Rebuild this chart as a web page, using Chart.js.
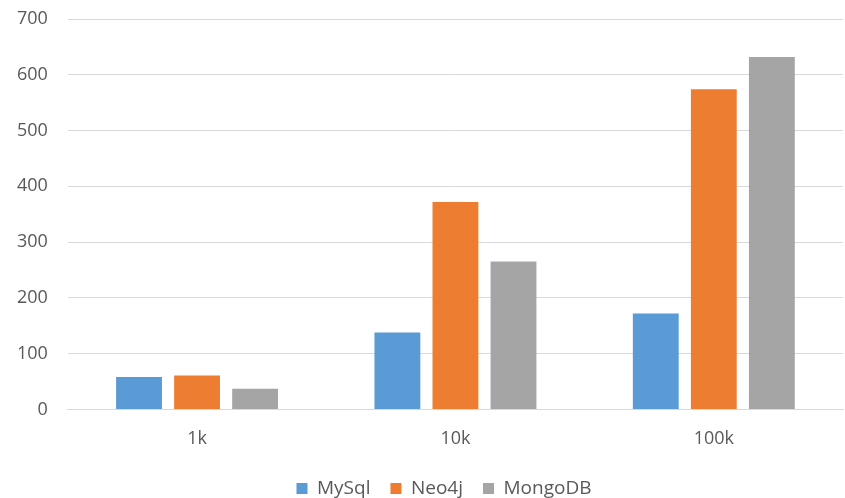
<!DOCTYPE html>
<html>
<head>
<meta charset="utf-8">
<script src="https://cdn.jsdelivr.net/npm/chart.js@4"></script>
<style>
  html, body { margin: 0; padding: 0; background: #fff; }
  #wrap { width: 845px; height: 498px; }
</style>
</head>
<body>
<div id="wrap"><canvas id="myChart"></canvas></div>
<script>
let categories = ['1k', '10k', '100k'];
let mysqlValues = [58, 138, 172];
let neo4jValues = [61, 372, 574];
let mongoValues = [37, 265, 632];

var ctx = document.getElementById('myChart').getContext('2d');

Chart.defaults.font.family = '"Open Sans", sans-serif';
Chart.defaults.font.size = 18;
Chart.defaults.color = '#595959';

// legend sits a little right of the canvas centre in the original
const legendShift = {
    id: 'legendShift',
    afterLayout(chart) {
        chart.legend.left += 24;
        chart.legend.right += 24;
    }
};

new Chart(ctx, {
    type: 'bar',
    data: {
        labels: categories,
        datasets: [{
            label: 'MySql',
            data: mysqlValues,
            backgroundColor: '#5B9BD5'
        },
        {
            label: 'Neo4j',
            data: neo4jValues,
            backgroundColor: '#ED7D31'
        },
        {
            label: 'MongoDB',
            data: mongoValues,
            backgroundColor: '#A5A5A5'
        }]
    },
    options: {
        responsive: true,
        maintainAspectRatio: false,
        animation: false,
        layout: {
            padding: { top: 19, right: 2, left: -3, bottom: -10 }
        },
        datasets: {
            bar: {
                categoryPercentage: 0.674,
                barPercentage: 0.79
            }
        },
        plugins: {
            tooltip: { enabled: false },
            legend: {
                position: 'bottom',
                labels: {
                    boxWidth: 11,
                    boxHeight: 11,
                    padding: 20,
                    font: { size: 19 }
                }
            }
        },
        scales: {
            x: {
                grid: { display: false },
                border: { display: true, color: '#D9D9D9' },
                ticks: { padding: 11 },
                afterFit: (scale) => { scale.height -= 2; }
            },
            y: {
                min: 0,
                max: 700,
                ticks: { stepSize: 100, padding: 20 },
                grid: { color: '#D9D9D9', drawTicks: false },
                border: { display: false },
                afterFit: (scale) => { scale.paddingTop = 0; scale.paddingBottom = 0; }
            }
        }
    },
    plugins: [legendShift]
});
</script>
</body>
</html>
